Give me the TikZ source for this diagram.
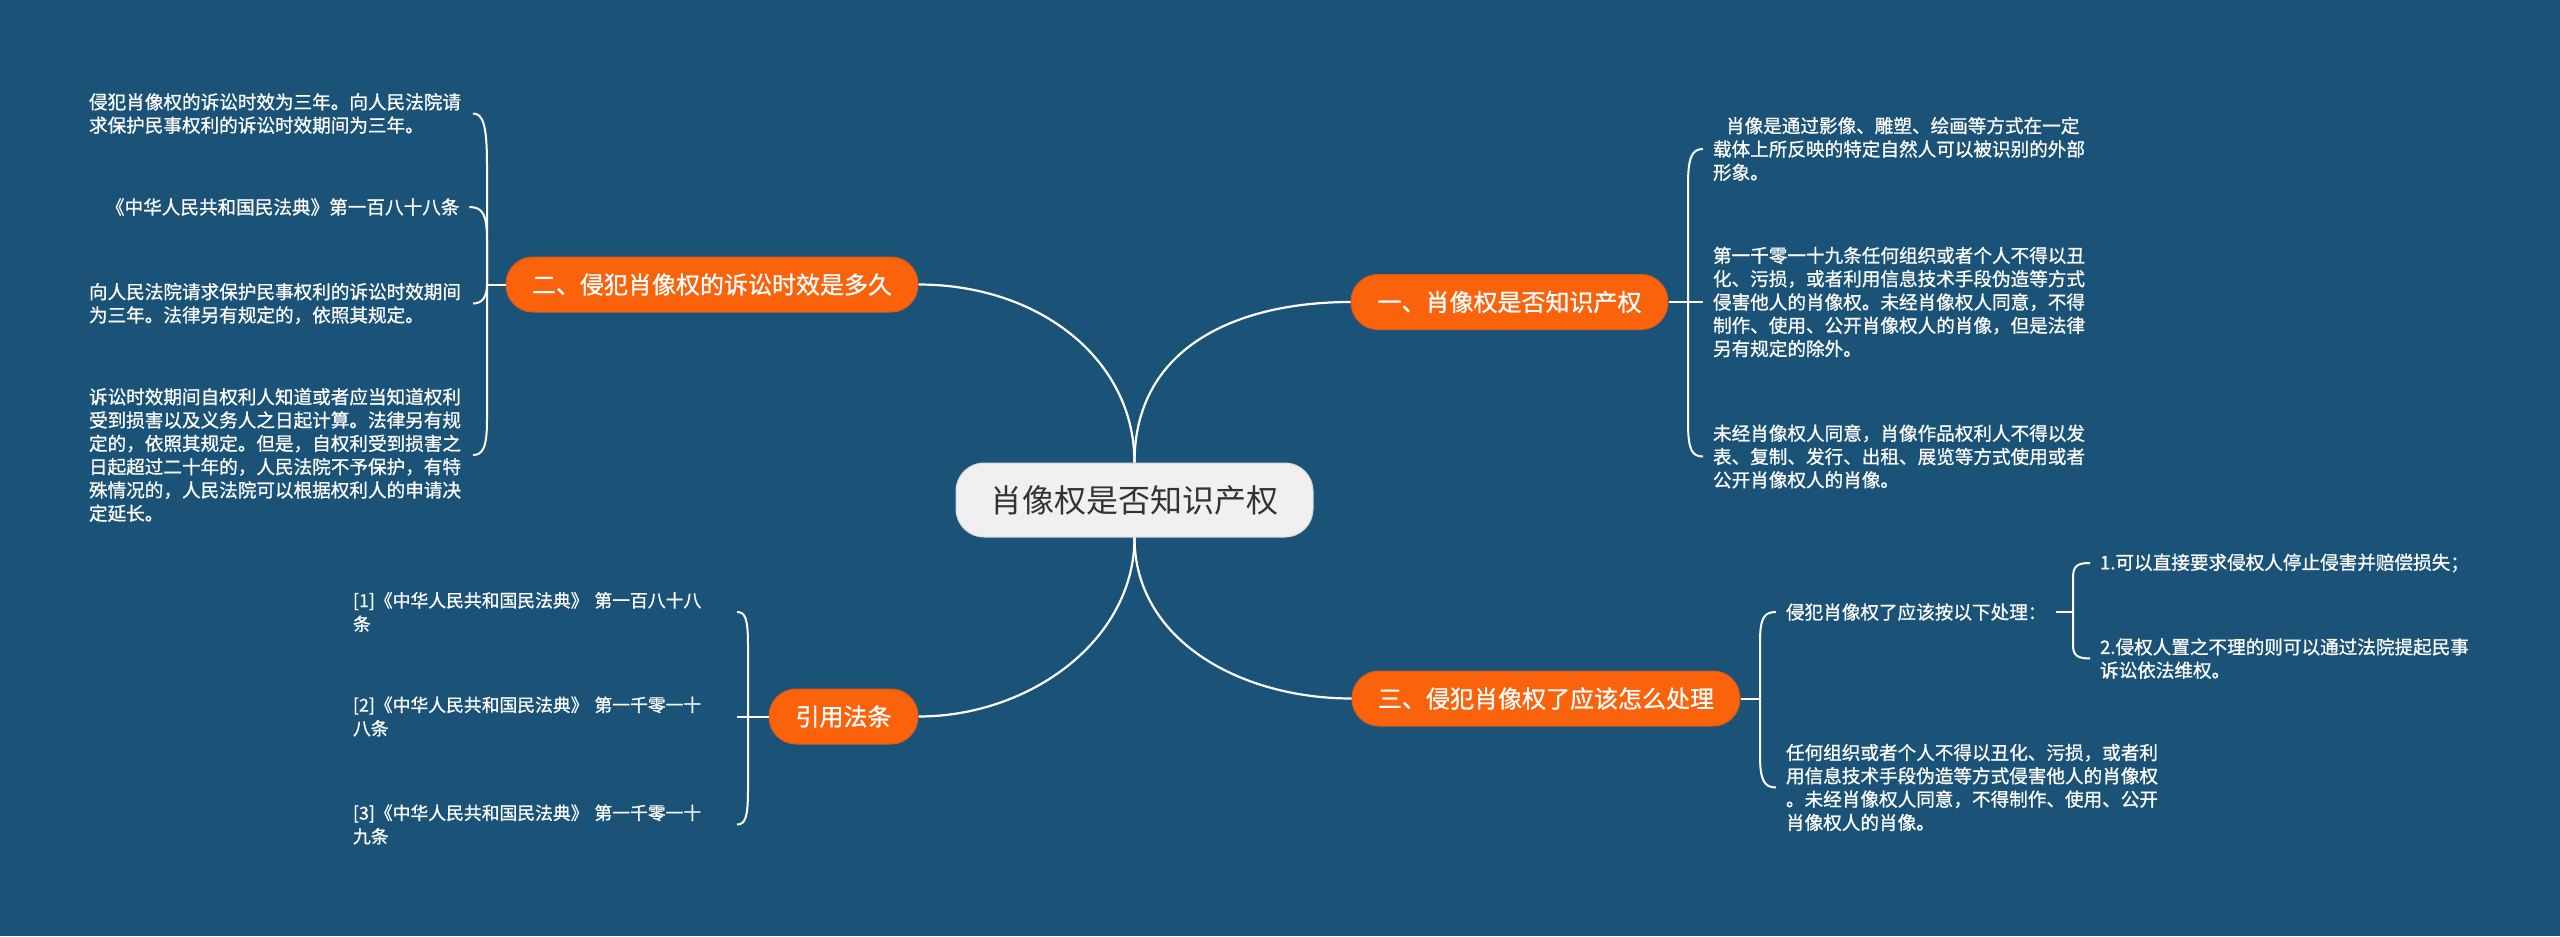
\documentclass[tikz,border=0pt]{standalone}
\usepackage{fontspec}
\setmainfont{Noto Sans CJK SC}
\newfontfamily\heavier{Noto Sans CJK SC}[FakeBold=0.9]
\definecolor{bg}{RGB}{27,83,120}
\definecolor{org}{RGB}{250,98,12}
\definecolor{orgline}{RGB}{222,88,22}
\definecolor{cfill}{RGB}{240,240,240}
\definecolor{cline}{RGB}{215,215,215}
\definecolor{darktext}{RGB}{51,51,51}
\begin{document}
\begin{tikzpicture}[x=1bp,y=-1bp,
  centre/.style={fill=cfill,draw=cline,line width=1bp,rounded corners=28bp,
    minimum width=357bp,minimum height=74bp,inner sep=0pt,text=darktext,
    font=\fontsize{32bp}{36bp}\selectfont},
  topic/.style={fill=org,draw=orgline,line width=1bp,rounded corners=27bp,
    minimum height=55bp,inner sep=0pt,text=white,
    font=\heavier\fontsize{24bp}{28bp}\selectfont},
  leaf/.style={text=white,inner sep=0pt,outer xsep=10bp,anchor=west,align=left,
    font=\heavier\fontsize{18.6bp}{23.3bp}\selectfont},
  leafw/.style={leaf,text width=374bp},
  cite/.style={leafw,font=\heavier\fontsize{17.8bp}{23.5bp}\selectfont},
  mainline/.style={draw=white,line width=2.2bp},
  leafline/.style={draw=white,line width=2bp}
]
\fill[bg] (0,0) rectangle (2560,936);
\useasboundingbox (0,0) rectangle (2560,936);

% main nodes
\node[centre] (c) at (1134.5,500) {肖像权是否知识产权};
\node[topic,minimum width=412bp] (n2) at (712,284.5) {二、侵犯肖像权的诉讼时效是多久};
\node[topic,minimum width=317bp] (n1) at (1509.5,302) {一、肖像权是否知识产权};
\node[topic,minimum width=388bp] (n3) at (1546,698.5) {三、侵犯肖像权了应该怎么处理};
\node[topic,minimum width=149bp] (n4) at (843.5,716.5) {引用法条};

% main connectors
\draw[mainline] (c.north) .. controls (1134.5,360) and (1040,284.5) .. (n2.east);
\draw[mainline] (c.north) .. controls (1134.5,345) and (1240,302) .. (n1.west);
\draw[mainline] (c.south) .. controls (1134.5,640) and (1030,716.5) .. (n4.east);
\draw[mainline] (c.south) .. controls (1134.5,640) and (1240,698.5) .. (n3.west);

% left group (二)
\node[leafw] (A1) at (79,113.5) {侵犯肖像权的诉讼时效为三年。向人民法院请\\求保护民事权利的诉讼时效期间为三年。};
\node[leaf] (A2) at (96,207) {《中华人民共和国民法典》第一百八十八条};
\node[leafw] (A3) at (79,303.5) {向人民法院请求保护民事权利的诉讼时效期间\\为三年。法律另有规定的，依照其规定。};
\node[leafw] (A4) at (79,455) {诉讼时效期间自权利人知道或者应当知道权利\\受到损害以及义务人之日起计算。法律另有规\\定的，依照其规定。但是，自权利受到损害之\\日起超过二十年的，人民法院不予保护，有特\\殊情况的，人民法院可以根据权利人的申请决\\定延长。};
\coordinate (j2) at (487,284.5);
\draw[leafline] (n2.west) -- (j2);
\draw[leafline] (j2) -- (487,165) .. controls (487,125) and (483,113.5) .. (A1.east);
\draw[leafline] (j2) -- (487,240) .. controls (487,215) and (483,207) .. (A2.east);
\draw[leafline] (j2) .. controls (487,296) and (483,303.5) .. (A3.east);
\draw[leafline] (j2) -- (487,420) .. controls (487,447) and (483,455) .. (A4.east);

% right group (一)
\node[leafw] (B1) at (1703,149) {\hspace*{13bp}肖像是通过影像、雕塑、绘画等方式在一定\\载体上所反映的特定自然人可以被识别的外部\\形象。};
\node[leafw] (B2) at (1703,302) {第一千零一十九条任何组织或者个人不得以丑\\化、污损，或者利用信息技术手段伪造等方式\\侵害他人的肖像权。未经肖像权人同意，不得\\制作、使用、公开肖像权人的肖像，但是法律\\另有规定的除外。};
\node[leafw] (B3) at (1703,456.5) {未经肖像权人同意，肖像作品权利人不得以发\\表、复制、发行、出租、展览等方式使用或者\\公开肖像权人的肖像。};
\coordinate (j1) at (1688,302);
\draw[leafline] (n1.east) -- (B2.west);
\draw[leafline] (j1) -- (1688,185) .. controls (1688,157) and (1692,149) .. (B1.west);
\draw[leafline] (j1) -- (1688,422) .. controls (1688,450) and (1692,456.5) .. (B3.west);

% group 三
\node[leaf] (C1) at (1776,612) {侵犯肖像权了应该按以下处理：};
\node[leaf] (C1a) at (2090,563) {1.可以直接要求侵权人停止侵害并赔偿损失；};
\node[leafw] (C1b) at (2090,658.5) {2.侵权人置之不理的则可以通过法院提起民事\\诉讼依法维权。};
\node[leafw] (C2) at (1776,787.5) {任何组织或者个人不得以丑化、污损，或者利\\用信息技术手段伪造等方式侵害他人的肖像权\\。未经肖像权人同意，不得制作、使用、公开\\肖像权人的肖像。};
\coordinate (j3) at (1760,698.5);
\draw[leafline] (n3.east) -- (j3);
\draw[leafline] (j3) -- (1760,642) .. controls (1760,618) and (1764,612) .. (C1.west);
\draw[leafline] (j3) -- (1760,755) .. controls (1760,780) and (1764,787.5) .. (C2.west);
\coordinate (j5) at (2073,612);
\draw[leafline] (C1.east) -- (j5);
\draw[leafline] (j5) -- (2073,578) .. controls (2073,566) and (2077,563) .. (C1a.west);
\draw[leafline] (j5) -- (2073,645) .. controls (2073,655) and (2077,658.5) .. (C1b.west);

% group 引用法条
\node[cite] (D1) at (343,612) {[1]《中华人民共和国民法典》 第一百八十八\\条};
\node[cite] (D2) at (343,716.5) {[2]《中华人民共和国民法典》 第一千零一十\\八条};
\node[cite] (D3) at (343,824.5) {[3]《中华人民共和国民法典》 第一千零一十\\九条};
\coordinate (j4) at (748,716.5);
\draw[leafline] (n4.west) -- (D2.east);
\draw[leafline] (j4) -- (748,645) .. controls (748,618) and (745,612) .. (D1.east);
\draw[leafline] (j4) -- (748,790) .. controls (748,818) and (745,824.5) .. (D3.east);
\end{tikzpicture}
\end{document}
